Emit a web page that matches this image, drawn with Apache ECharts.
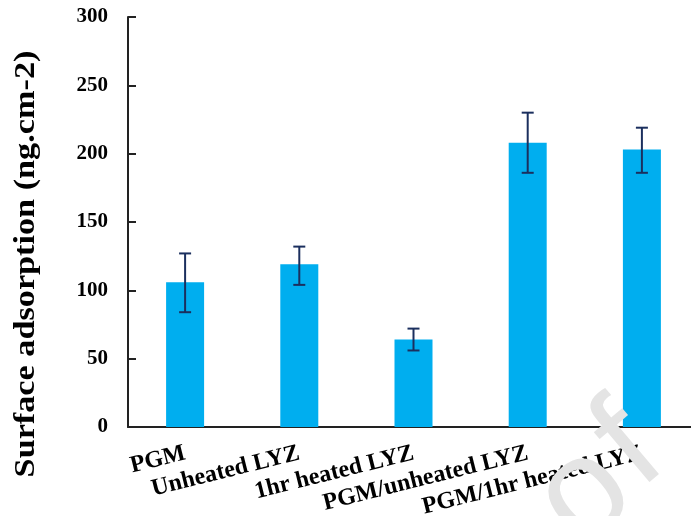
<!DOCTYPE html>
<html>
<head>
<meta charset="utf-8">
<script src="https://cdn.jsdelivr.net/npm/echarts@6/dist/echarts.min.js"></script>
<style>html,body{margin:0;padding:0;background:#fff}#c{width:691px;height:516px}</style>
</head>
<body>
<div id="c"></div>
<script>
const categories = ['PGM', 'Unheated LYZ', '1hr heated LYZ', 'PGM/unheated LYZ', 'PGM/1hr heated LYZ'];
const values = [106, 119, 64, 208, 203];
const errLow = [84, 104, 56, 186, 186];
const errHigh = [127, 132, 72, 230, 219];
const yTicks = { min: 0, max: 300, interval: 50 };
const yTitle = 'Surface adsorption (ng.cm-2)';

const serif = "'Liberation Serif', 'Times New Roman', serif";
const wmFont = "140px 'Liberation Sans', Arial, sans-serif";
const chart = echarts.init(document.getElementById('c'), null, { renderer: 'canvas' });
chart.setOption({
  animation: false,
  grid: { left: 128, top: 17, width: 571, height: 410, containLabel: false, outerBoundsMode: 'none' },
  xAxis: {
    type: 'category',
    data: categories,
    axisLine: { lineStyle: { color: '#222', width: 2 } },
    axisTick: { show: false },
    axisLabel: {
      rotate: 14, margin: 26, interval: 0,
      fontFamily: serif, fontWeight: 'bold', fontSize: 24, color: '#000'
    }
  },
  yAxis: {
    type: 'value',
    min: yTicks.min, max: yTicks.max, interval: yTicks.interval,
    splitLine: { show: false },
    axisLine: { show: true, lineStyle: { color: '#222', width: 2 } },
    axisTick: { show: true, inside: true, length: 8, lineStyle: { color: '#222', width: 2 } },
    axisLabel: { margin: 20, fontFamily: serif, fontWeight: 'bold', fontSize: 21, color: '#000' }
  },
  series: [
    {
      type: 'bar',
      data: values,
      barWidth: 38,
      itemStyle: { color: '#00AEEF' },
      z: 2
    },
    {
      type: 'custom',
      data: categories.map((c, i) => [i, errLow[i], errHigh[i]]),
      z: 3,
      renderItem: function (params, api) {
        const lo = api.coord([api.value(0), api.value(1)]);
        const hi = api.coord([api.value(0), api.value(2)]);
        const hw = 6;
        const st = { stroke: '#1B2F5E', lineWidth: 2 };
        return {
          type: 'group',
          children: [
            { type: 'line', shape: { x1: lo[0], y1: lo[1], x2: hi[0], y2: hi[1] }, style: st },
            { type: 'line', shape: { x1: lo[0] - hw, y1: lo[1], x2: lo[0] + hw, y2: lo[1] }, style: st },
            { type: 'line', shape: { x1: hi[0] - hw, y1: hi[1], x2: hi[0] + hw, y2: hi[1] }, style: st }
          ]
        };
      }
    }
  ],
  graphic: [
    {
      type: 'text', x: 27, y: 264, rotation: Math.PI / 2, scaleX: 1.18,
      style: { text: yTitle, font: "bold 29px 'Liberation Serif', serif", fill: '#000', textAlign: 'center', textVerticalAlign: 'middle' }
    },
    {
      type: 'text', x: 585, y: 496, rotation: 0.70, z: 100,
      style: { text: 'o', font: wmFont, fill: '#e4e4e4', textAlign: 'center', textVerticalAlign: 'middle' }
    },
    {
      type: 'text', x: 630, y: 448, rotation: 0.70, z: 100,
      style: { text: 'f', font: wmFont, fill: '#e4e4e4', textAlign: 'center', textVerticalAlign: 'middle' }
    }
  ]
});
</script>
</body>
</html>
